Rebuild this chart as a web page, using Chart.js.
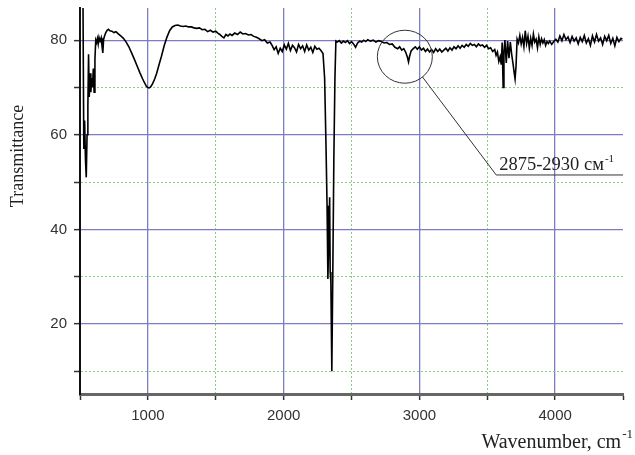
<!DOCTYPE html>
<html><head><meta charset="utf-8">
<script src="https://cdn.jsdelivr.net/npm/chart.js@4"></script>
<style>html,body{margin:0;padding:0;background:#fff}canvas{display:block}</style>
</head><body>
<canvas id="c" width="635" height="455"></canvas>
<script>
// ---- data ----
const wavenumbers = [
515,522,528,534,540,546,552,558,563,568,574,580,586,592,598,604,610,616,622,628,634,640,648,656,662,668,674,682,690,700,
710,720,735,750,765,780,800,820,840,860,880,900,920,940,960,975,990,1000,1010,1020,1035,1050,1065,1080,1100,1120,1140,1160,1180,1200,
1220,1240,1260,1280,1300,1320,1340,1360,1380,1400,1420,1440,1460,1480,1500,1515,1530,1545,1560,1575,1590,1605,1620,1640,1660,1680,1700,1720,1740,1760,
1780,1800,1820,1840,1860,1880,1900,1915,1930,1945,1960,1975,1990,2005,2020,2035,2050,2065,2080,2095,2110,2125,2140,2155,2170,2185,2200,2215,2230,2245,
2260,2275,2290,2302,2312,2320,2326,2333,2339,2343,2348,2355,2362,2370,2378,2385,2395,2410,2425,2440,2455,2470,2485,2500,2515,2530,2545,2560,2575,2590,
2605,2620,2640,2660,2680,2700,2720,2740,2760,2780,2800,2820,2840,2855,2870,2885,2900,2912,2920,2928,2940,2955,2970,2985,3000,3015,3030,3045,3060,3075,
3090,3105,3120,3135,3150,3165,3180,3195,3210,3225,3240,3255,3270,3285,3300,3315,3330,3345,3360,3375,3390,3405,3420,3435,3450,3465,3480,3495,3510,3525,
3540,3555,3565,3575,3585,3595,3603,3610,3617,3623,3630,3640,3650,3660,3670,3680,3690,3698,3705,3712,3720,3730,3740,3750,3760,3770,3780,3790,3800,3810,
3820,3830,3840,3850,3860,3870,3880,3890,3900,3910,3920,3930,3940,3950,3960,3975,3990,4005,4020,4035,4050,4065,4080,4095,4110,4125,4140,4155,4170,4185,
4200,4215,4230,4245,4260,4275,4290,4305,4320,4335,4350,4365,4380,4395,4410,4425,4440,4455,4470,4485,4495
];
const transmittance = [
90,88,57,63,55,51,60,66,77,68,73,69,72,70,74,69,76,80,79.5,80.3,79.2,80.6,79.8,80.5,78.8,77.3,80.2,81,81.6,82.1,
82.3,82,81.9,81.6,81.8,81.4,80.9,80.4,79.6,78.6,77.3,76,74.6,73.2,71.9,71,70.2,70,69.9,70.1,70.8,71.8,73,74.6,76.6,78.8,80.6,82,82.8,83.1,
83.2,83,82.9,83,82.8,82.8,82.6,82.5,82.6,82.2,82.3,81.8,82.1,81.7,81.9,81.5,81.2,80.8,80.5,81.2,80.9,81.3,81,81.5,81.2,81.7,81.3,81.4,81.1,81.2,
80.8,80.6,80.3,79.9,80.1,79.4,79.6,78.9,78,78.6,77.2,78.3,77.6,79,78.1,79.3,77.8,78.9,78.4,77.5,79.1,78.2,78.8,77.6,79,77.9,78.5,77.4,78.7,78.1,
78.3,77.8,77.2,72,58,45,29.5,38,46.8,31,29,10,30,55,72,79.8,79.6,79.9,79.4,79.8,79.5,79.9,79.3,79.7,79.2,78.5,79.4,79.8,79.6,80,
79.7,80.1,79.8,80,79.6,79.9,79.7,79.4,79.5,79.1,79.2,78.5,78.2,78.6,77.9,78.2,77.4,76.4,75.4,76.6,77.8,78.2,78.6,78.1,78.6,77.9,78.3,77.6,78.1,77.5,
78,77.4,78.2,77.6,78.1,77.5,77.9,78.3,77.7,78.4,77.9,78.6,78.2,78.8,78.3,78.9,78.5,79.1,78.7,79.3,78.9,79.1,78.6,79.2,78.8,79,78.5,78.9,78.2,78.4,
77.6,78,76.8,77.5,75.5,76.5,74.8,79.5,70,77.5,80,75.2,79.8,76.2,79.6,77,75,73.2,71.8,74.5,80.2,79.4,81,79.2,80.6,78.6,82,79.3,80.8,78.3,
80.4,78.9,81.3,79.6,80.2,78.4,80.7,79.1,80.3,79.4,80.1,78.9,79.7,79.3,79.8,79.1,79.7,80.2,79.6,80.9,79.9,81.2,80.1,80.7,79.5,80.8,79.8,80.5,79.2,80.6,
79.7,81,79.4,80.3,78.9,80.9,79.6,81.2,79.8,80.5,79.1,80.8,79.9,81,79.3,80.4,78.8,80.6,79.7,80.4,80.2
];
const xTickValues = [500,1000,1500,2000,2500,3000,3500,4000,4500];
const xTickLabels = [1000,2000,3000,4000];
const yTickValues = [10,20,30,40,50,60,70,80];
const yTickLabels = [20,40,60,80];
const xTitle = 'Wavenumber, cm';
const yTitle = 'Transmittance';
const annotationText = '2875-2930 см';
const superscript = '-1';
// annotation anchor points in data units
const circleCenter = [2893, 76.5];
const leaderEnd = [3566, 51.5];

const MAJOR = '#7c7cc4';
const MINOR = '#86cc86';
const points = wavenumbers.map((w, i) => ({x: w, y: transmittance[i]}));

function gridColor(major, edgeVals) {
  return ctx => {
    const v = ctx.tick && ctx.tick.value;
    if (v === undefined || edgeVals.includes(v)) return 'rgba(0,0,0,0)';
    return major.includes(v) ? MAJOR : MINOR;
  };
}
function gridWidth(major) {
  return ctx => {
    const v = ctx.tick && ctx.tick.value;
    return (v !== undefined && major.includes(v)) ? 1.3 : 1;
  };
}
function gridDash(major) {
  return ctx => {
    const v = ctx.tick && ctx.tick.value;
    if (v === undefined) return [];
    return major.includes(v) ? [] : [2, 2];
  };
}

const annot = {
  id: 'annot',
  afterDraw(chart) {
    const {ctx, scales: {x, y}, chartArea} = chart;
    ctx.save();
    // ellipse
    const cx = x.getPixelForValue(circleCenter[0]);
    const cy = y.getPixelForValue(circleCenter[1]);
    const rx = 27.5, ry = 26.5;
    ctx.strokeStyle = '#333';
    ctx.lineWidth = 1;
    ctx.beginPath();
    ctx.ellipse(cx, cy, rx, ry, 0, 0, Math.PI * 2);
    ctx.stroke();
    const th = 50 * Math.PI / 180;
    const sx = cx + rx * Math.cos(th), sy = cy + ry * Math.sin(th);
    const ex = x.getPixelForValue(leaderEnd[0]);
    const ey = y.getPixelForValue(leaderEnd[1]);
    ctx.beginPath();
    ctx.moveTo(sx, sy);
    ctx.lineTo(ex, ey);
    ctx.lineTo(chartArea.right, ey);
    ctx.stroke();
    // annotation text
    ctx.fillStyle = '#222';
    ctx.textBaseline = 'alphabetic';
    ctx.textAlign = 'left';
    ctx.font = '18.5px "Liberation Serif", serif';
    ctx.fillText(annotationText, ex + 3, ey - 5);
    const tw = ctx.measureText(annotationText).width;
    ctx.font = '11px "Liberation Serif", serif';
    ctx.fillText(superscript, ex + 4 + tw, ey - 13);

    // x title (right aligned)
    ctx.font = '20px "Liberation Serif", serif';
    const w1 = ctx.measureText(xTitle).width;
    ctx.font = '13px "Liberation Serif", serif';
    const w2 = ctx.measureText(superscript).width;
    const right = 633;
    const bx = right - w2 - w1 - 1;
    ctx.font = '20px "Liberation Serif", serif';
    ctx.fillText(xTitle, bx, 448);
    ctx.font = '13px "Liberation Serif", serif';
    ctx.fillText(superscript, bx + w1 + 1, 438);

    // y title
    ctx.translate(18, 156);
    ctx.rotate(-Math.PI / 2);
    ctx.textAlign = 'center';
    ctx.textBaseline = 'middle';
    ctx.font = '18px "Liberation Serif", serif';
    ctx.fillText(yTitle, 0, 0);
    ctx.restore();
  }
};

new Chart(document.getElementById('c'), {
  type: 'line',
  data: {
    datasets: [{
      data: points,
      borderColor: '#000',
      borderWidth: 1.6,
      pointRadius: 0,
      tension: 0,
      fill: false
    }]
  },
  options: {
    responsive: false,
    animation: false,
    parsing: false,
    layout: {padding: {left: 0, right: 12, top: 8, bottom: 0}},
    plugins: {legend: {display: false}, tooltip: {enabled: false}},
    scales: {
      x: {
        type: 'linear',
        min: 500, max: 4500,
        afterBuildTicks: s => { s.ticks = xTickValues.map(v => ({value: v})); },
        afterFit: s => { s.height = 61; s.paddingLeft = 0; s.paddingRight = 0; },
        ticks: {
          autoSkip: false,
          maxRotation: 0,
          padding: 7,
          color: '#333',
          font: {family: '"Liberation Sans", Arial, sans-serif', size: 15},
          callback: v => xTickLabels.includes(v) ? String(v) : ''
        },
        grid: {
          color: gridColor(xTickLabels, [500, 4500]),
          lineWidth: gridWidth(xTickLabels),
          tickColor: '#333',
          tickLength: 6,
          tickWidth: 1.5,
          tickBorderDash: []
        },
        border: {color: '#666', width: 3, dash: gridDash(xTickLabels)}
      },
      y: {
        type: 'linear',
        min: 5.2, max: 86.8,
        afterBuildTicks: s => { s.ticks = yTickValues.map(v => ({value: v})); },
        afterFit: s => { s.width = 80; s.paddingTop = 0; s.paddingBottom = 0; },
        ticks: {
          autoSkip: false,
          padding: 7,
          color: '#333',
          font: {family: '"Liberation Sans", Arial, sans-serif', size: 15},
          callback: v => yTickLabels.includes(v) ? String(v) : ''
        },
        grid: {
          color: gridColor(yTickLabels, []),
          lineWidth: gridWidth(yTickLabels),
          tickColor: '#333',
          tickLength: 6,
          tickWidth: 1.5,
          tickBorderDash: []
        },
        border: {color: '#111', width: 2, dash: gridDash(yTickLabels)}
      }
    }
  },
  plugins: [annot]
});
</script>
</body></html>
